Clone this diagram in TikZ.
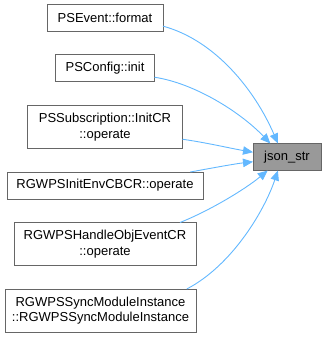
\documentclass[tikz,border=0pt]{standalone}
\usepackage{fontspec}
\setmainfont{Liberation Sans}
\definecolor{EdgeBlue}{RGB}{99,184,255}
\definecolor{BoxLine}{RGB}{102,102,102}
\definecolor{BoxFill}{RGB}{153,153,153}
\usetikzlibrary{positioning, arrows.meta}

\begin{document}
\begin{tikzpicture}[x=1pt, y=1pt,
    fnbox/.style={draw=BoxLine, line width=1pt, fill=white, outer sep=0pt, inner xsep=0pt,
      align=center, font=\fontsize{13}{15.5}\selectfont, minimum height=27pt},
    twoline/.style={minimum height=43pt},
    callarrow/.style={draw=EdgeBlue, line width=0.9pt, -{Triangle[length=10pt, width=8.5pt]}}]
  \useasboundingbox (0,0) rectangle (326,-339);

  % callers, one column on the left
  \node[fnbox, minimum width=116pt] (psevent) at (105,-18) {PSEvent::format};
  \node[fnbox, minimum width=99pt, below=23.5pt of psevent] (psconfig) {PSConfig::init};
  \node[fnbox, twoline, minimum width=155pt, below=23.5pt of psconfig] (pssub) {PSSubscription::InitCR\\::operate};
  \node[fnbox, minimum width=196pt, below=23.5pt of pssub] (initenv) {RGWPSInitEnvCBCR::operate};
  \node[fnbox, twoline, minimum width=182pt, below=23.5pt of initenv] (handleobj) {RGWPSHandleObjEventCR\\::operate};
  \node[fnbox, twoline, minimum width=191pt, below=23.5pt of handleobj, xshift=-4.5pt] (syncmod) {RGWPSSyncModuleInstance\\::RGWPSSyncModuleInstance};

  % the called function
  \node[fnbox, fill=BoxFill, minimum width=68pt] (jsonstr) at (287,-157) {json\_str};

  \draw[callarrow] (psevent.-8) .. controls +(52,-14) and +(-23,53.5) .. (jsonstr.124);
  \draw[callarrow] (psconfig.-10) .. controls +(40,-6) and +(-30,31.5) .. (jsonstr.141);
  \draw[callarrow] (pssub.-9.5) .. controls +(22,-3) and +(-23,4) .. (jsonstr.172);
  \draw[callarrow] (initenv.9) .. controls +(22,4) and +(-18,-2) .. (jsonstr.188);
  \draw[callarrow] (handleobj.16) .. controls +(30,12) and +(-23,-19) .. (jsonstr.215);
  \draw[callarrow] (syncmod.14) .. controls +(46,24) and +(-13,-39) .. (jsonstr.-124);
\end{tikzpicture}
\end{document}
